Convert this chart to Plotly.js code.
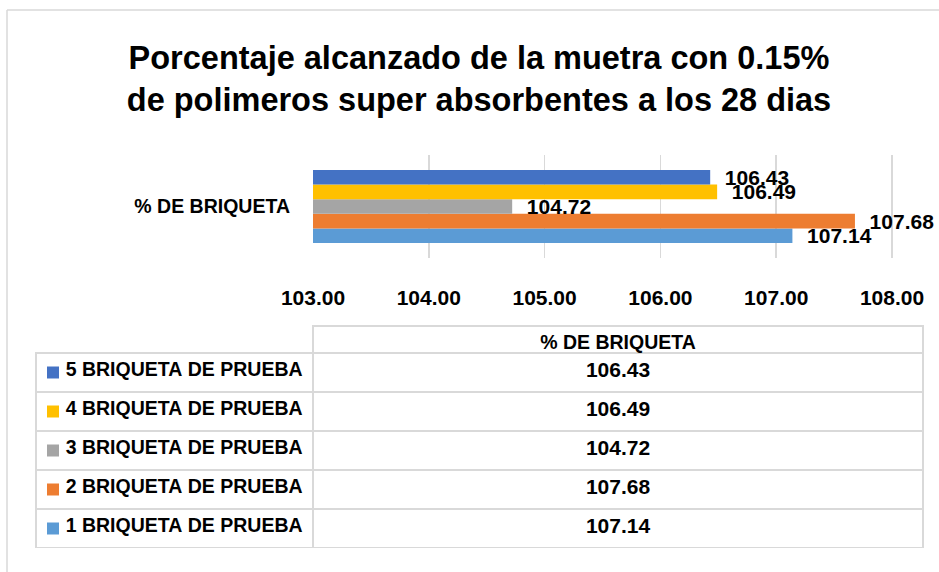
<!DOCTYPE html>
<html>
<head>
<meta charset="utf-8">
<script src="https://cdn.plot.ly/plotly-3.0.1.min.js"></script>
<style>html,body{margin:0;padding:0;background:#fff;}#chart{width:939px;height:572px;}</style>
</head>
<body>
<div id="chart"></div>
<script>
const category = ['% DE BRIQUETA'];
const seriesNames = ['1 BRIQUETA DE PRUEBA','2 BRIQUETA DE PRUEBA','3 BRIQUETA DE PRUEBA','4 BRIQUETA DE PRUEBA','5 BRIQUETA DE PRUEBA'];
const seriesValues = [107.14, 107.68, 104.72, 106.49, 106.43];
const seriesColors = ['#5B9BD5','#ED7D31','#A5A5A5','#FFC000','#4472C4'];
const tickValues = [103, 104, 105, 106, 107, 108];
const titleText = 'Porcentaje alcanzado de la muetra con 0.15%<br>de polimeros super absorbentes a los 28 dias';

const FONT = 'Liberation Sans, Arial, sans-serif';
const W = 939, H = 572;
const NB = '\u00a0';

const traces = seriesNames.map((name, i) => ({
  type: 'bar',
  orientation: 'h',
  name: name,
  y: category,
  x: [seriesValues[i]],
  marker: {color: seriesColors[i], line: {width: 0}},
  text: [NB + NB + seriesValues[i].toFixed(2)],
  textposition: 'outside',
  constraintext: 'none',
  textfont: {family: FONT, size: 21, color: '#000', weight: 'bold'},
  cliponaxis: true,
  showlegend: false,
  hoverinfo: 'skip'
}));

// data table rows, top to bottom: series 5 first
const order = [4, 3, 2, 1, 0];
const rowLabels = order.map(i => NB + NB + NB + NB + seriesNames[i].split(' ').join(NB));
const rowValues = order.map(i => seriesValues[i].toFixed(2));

// legend keys inside the table's first column
traces.push({
  type: 'scatter',
  mode: 'markers',
  xaxis: 'x2', yaxis: 'y2',
  y: seriesNames,
  x: seriesNames.map(() => 0.5),
  marker: {symbol: 'square', size: 12, color: seriesColors, line: {width: 0}},
  showlegend: false,
  hoverinfo: 'skip',
  cliponaxis: false
});

traces.push({
  type: 'table',
  domain: {x: [36 / W, 923 / W], y: [1 - 548 / H, 1 - 326 / H]},
  columnwidth: [277, 610],
  header: {
    values: ['', category[0]],
    align: ['left', 'center'],
    height: 27,
    fill: {color: 'rgba(0,0,0,0)'},
    line: {color: ['rgba(0,0,0,0)', '#d9d9d9'], width: 1.5},
    font: {family: FONT, size: 19.5, color: '#000', weight: 'bold'}
  },
  cells: {
    values: [rowLabels, rowValues],
    align: ['left', 'center'],
    height: 39,
    fill: {color: 'rgba(0,0,0,0)'},
    line: {color: '#d9d9d9', width: 1.5},
    font: {family: FONT, size: [19.5, 21], color: '#000', weight: 'bold'}
  }
});

const xMax = 108 + (W - 892) / ((892 - 313) / 5);

const layout = {
  width: W, height: H,
  margin: {l: 0, r: 0, t: 0, b: 0},
  paper_bgcolor: '#fff',
  plot_bgcolor: 'rgba(0,0,0,0)',
  font: {family: FONT, color: '#000'},
  title: {
    text: titleText,
    x: 479 / W, xanchor: 'center',
    y: 1 - 69 / H, yanchor: 'top', yref: 'container',
    font: {family: FONT, size: 32.5, color: '#000', weight: 'bold'}
  },
  barmode: 'group',
  bargap: 0.29,
  bargroupgap: 0,
  xaxis: {
    domain: [313 / W, 1],
    range: [103, xMax],
    tickvals: tickValues,
    ticktext: tickValues.map(v => v.toFixed(2)),
    showgrid: true,
    gridcolor: '#d9d9d9',
    gridwidth: 1.5,
    zeroline: false,
    showline: false,
    ticks: '',
    ticklabelstandoff: 25,
    tickfont: {family: FONT, size: 21, color: '#000', weight: 'bold'},
    fixedrange: true
  },
  yaxis: {
    domain: [1 - 258 / H, 1 - 155 / H],
    type: 'category',
    showgrid: false,
    zeroline: false,
    showline: false,
    ticks: '',
    ticklabelstandoff: 22,
    tickfont: {family: FONT, size: 19.5, color: '#000', weight: 'bold'},
    fixedrange: true
  },
  xaxis2: {
    domain: [36 / W, 70 / W],
    range: [0, 1],
    visible: false,
    fixedrange: true
  },
  yaxis2: {
    domain: [1 - 548 / H, 1 - 353 / H],
    type: 'category',
    categoryorder: 'array',
    categoryarray: seriesNames,
    range: [-0.5, seriesNames.length - 0.5],
    visible: false,
    fixedrange: true
  },
  shapes: [
    {type: 'line', xref: 'paper', yref: 'paper', x0: 7 / W, x1: 1, y0: 1 - 10 / H, y1: 1 - 10 / H, line: {color: '#d9d9d9', width: 1.5}},
    {type: 'line', xref: 'paper', yref: 'paper', x0: 7 / W, x1: 7 / W, y0: 1 - 10 / H, y1: 0, line: {color: '#d9d9d9', width: 1.5}}
  ]
};

Plotly.newPlot('chart', traces, layout, {displayModeBar: false, staticPlot: true});
</script>
</body>
</html>
